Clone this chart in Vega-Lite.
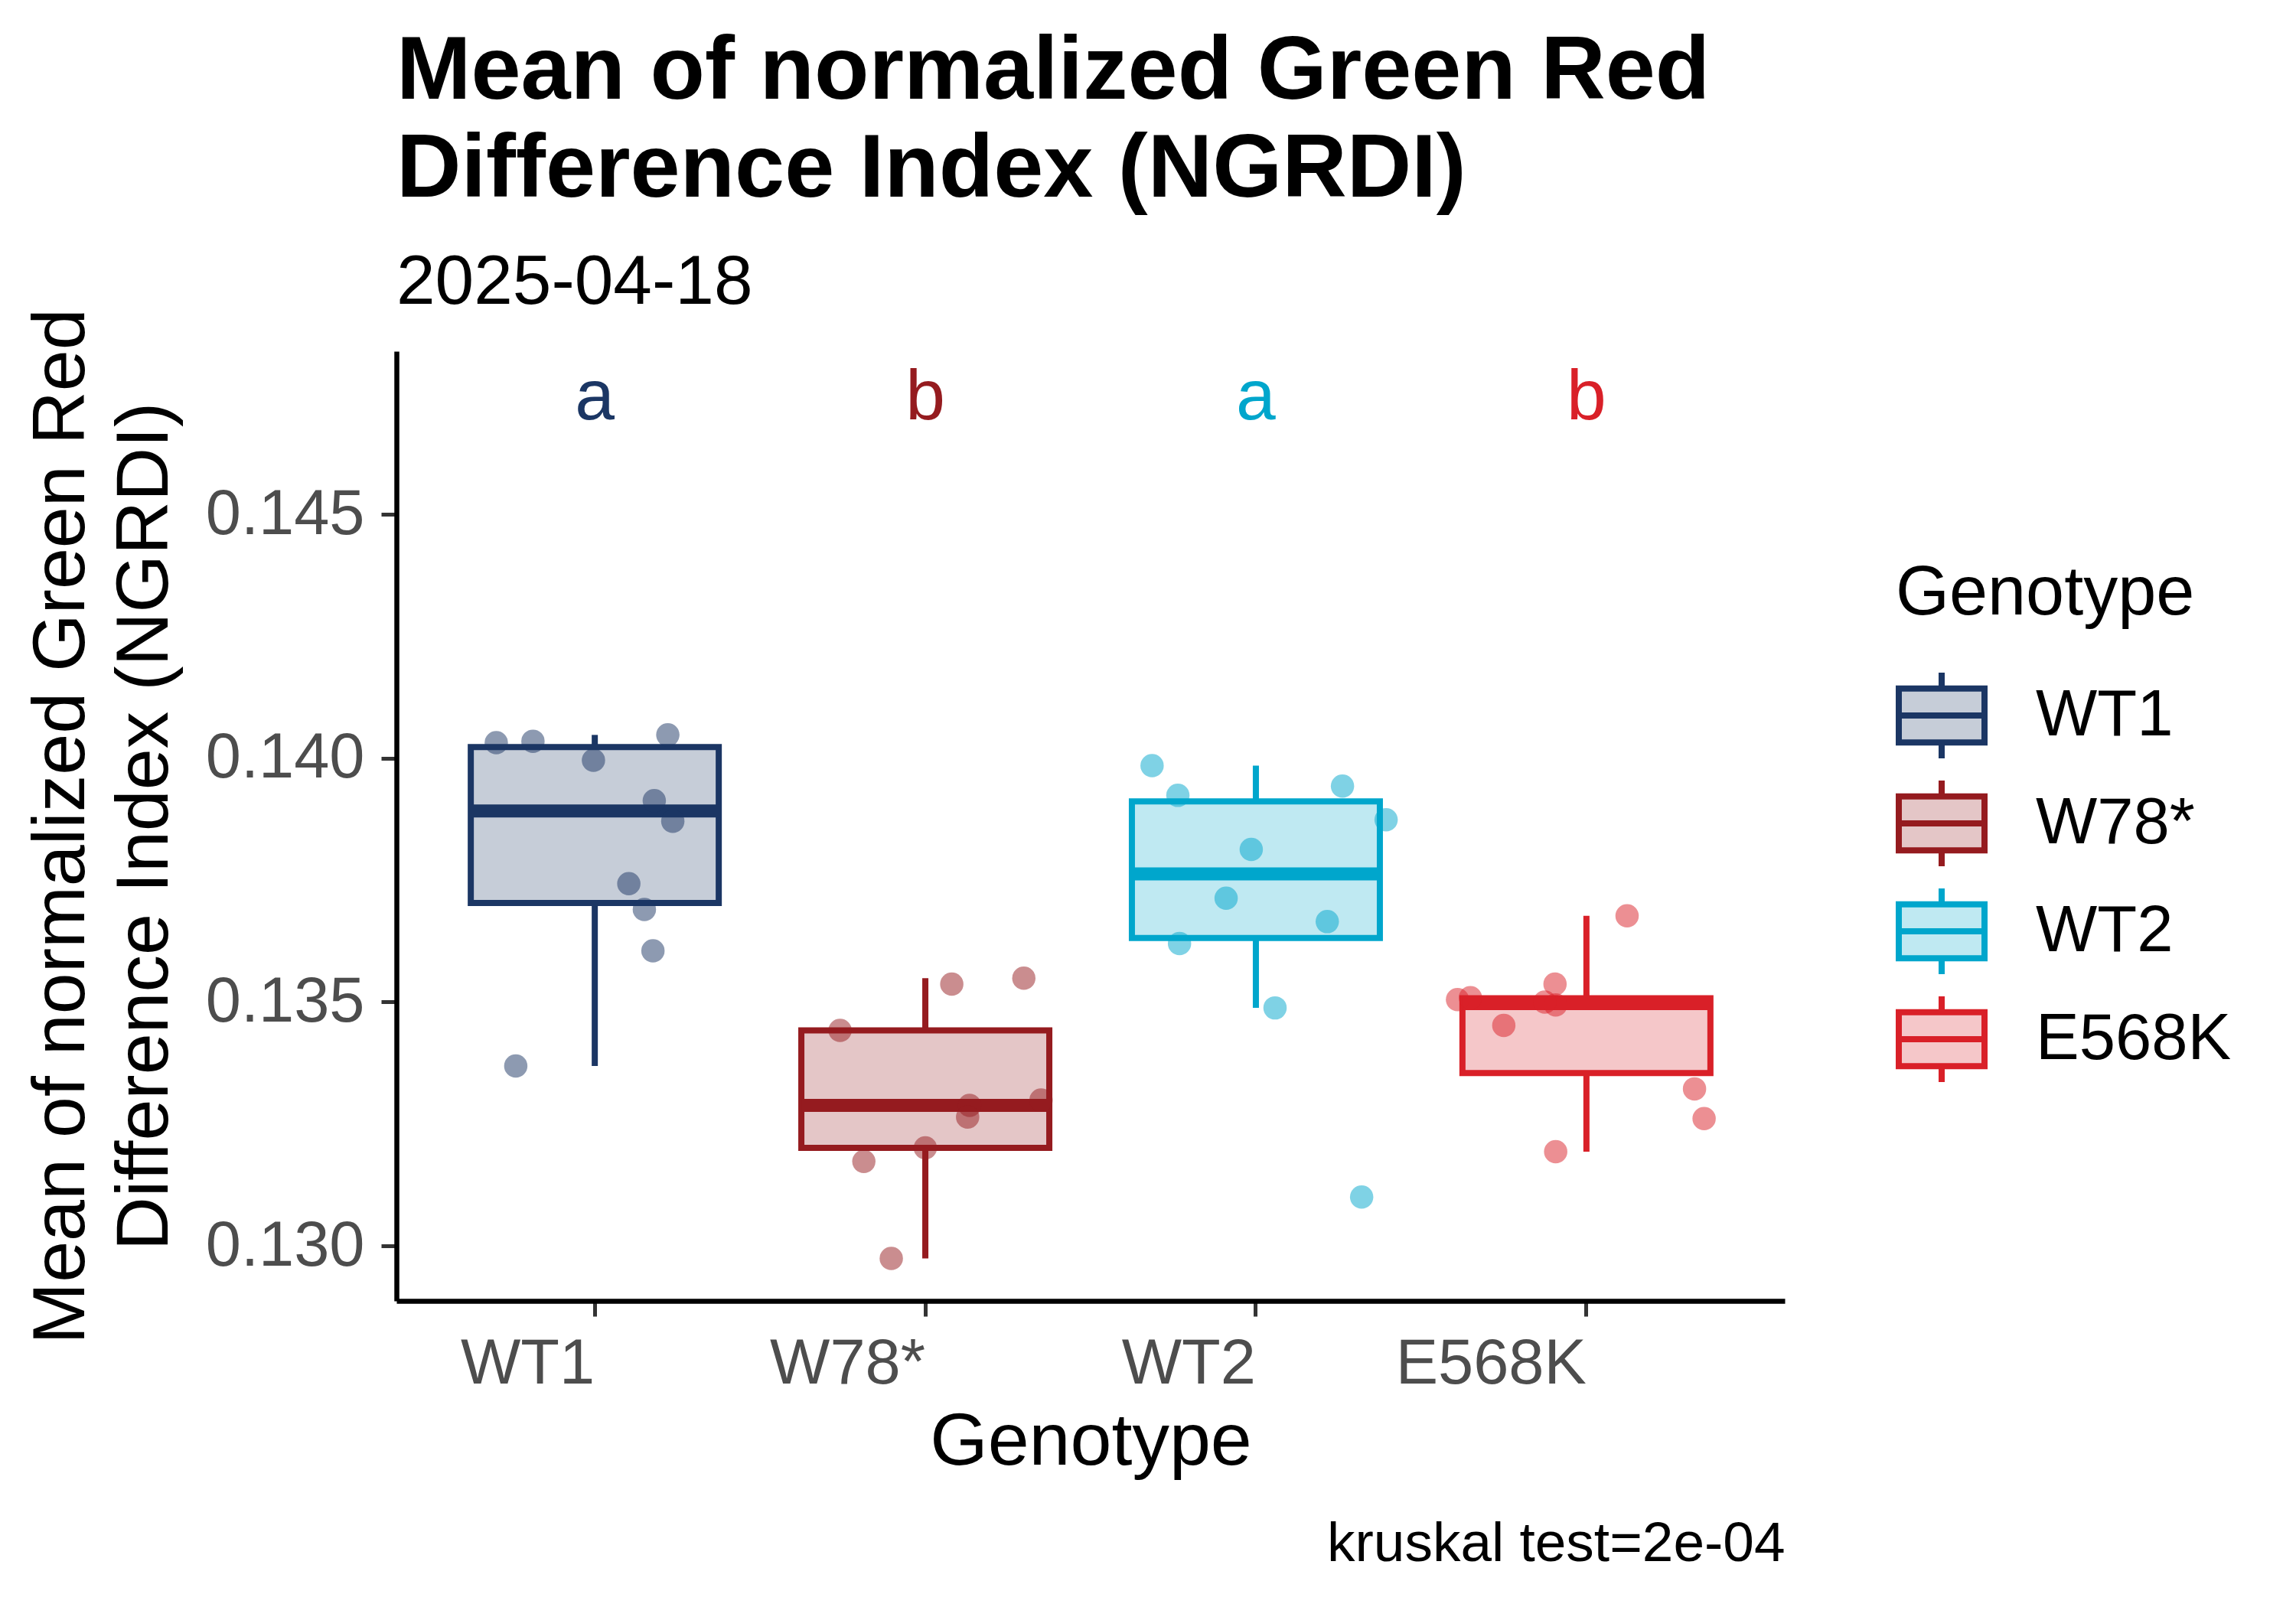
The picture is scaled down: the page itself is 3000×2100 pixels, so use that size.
{
  "$schema": "https://vega.github.io/schema/vega-lite/v6.json",
  "autosize": {"type": "none"},
  "width": 1814,
  "height": 1241,
  "padding": {"left": 518, "top": 459, "right": 668, "bottom": 400},
  "background": "white",
  "title": {
    "text": ["Mean of normalized Green Red", "Difference Index (NGRDI)"],
    "subtitle": "2025-04-18",
    "anchor": "start",
    "frame": "group",
    "font": "Liberation Sans",
    "fontSize": 117,
    "fontWeight": "bold",
    "lineHeight": 128,
    "color": "black",
    "subtitleFont": "Liberation Sans",
    "subtitleFontSize": 91,
    "subtitleColor": "black",
    "subtitlePadding": 43,
    "offset": -14
  },
  "datasets": {
    "ngrdi": [
      {"Genotype": "WT1", "NGRDI": 0.14032, "jit": -0.298},
      {"Genotype": "WT1", "NGRDI": 0.14035, "jit": -0.187},
      {"Genotype": "WT1", "NGRDI": 0.14048, "jit": 0.221},
      {"Genotype": "WT1", "NGRDI": 0.13996, "jit": -0.004},
      {"Genotype": "WT1", "NGRDI": 0.13913, "jit": 0.180},
      {"Genotype": "WT1", "NGRDI": 0.13871, "jit": 0.236},
      {"Genotype": "WT1", "NGRDI": 0.13743, "jit": 0.103},
      {"Genotype": "WT1", "NGRDI": 0.13690, "jit": 0.150},
      {"Genotype": "WT1", "NGRDI": 0.13605, "jit": 0.176},
      {"Genotype": "WT1", "NGRDI": 0.13369, "jit": -0.239},
      {"Genotype": "W78*", "NGRDI": 0.13537, "jit": 0.080},
      {"Genotype": "W78*", "NGRDI": 0.13549, "jit": 0.298},
      {"Genotype": "W78*", "NGRDI": 0.13442, "jit": -0.258},
      {"Genotype": "W78*", "NGRDI": 0.13288, "jit": 0.134},
      {"Genotype": "W78*", "NGRDI": 0.13264, "jit": 0.128},
      {"Genotype": "W78*", "NGRDI": 0.13299, "jit": 0.350},
      {"Genotype": "W78*", "NGRDI": 0.13201, "jit": 0.000},
      {"Genotype": "W78*", "NGRDI": 0.13173, "jit": -0.186},
      {"Genotype": "W78*", "NGRDI": 0.12974, "jit": -0.103},
      {"Genotype": "WT2", "NGRDI": 0.13985, "jit": -0.314},
      {"Genotype": "WT2", "NGRDI": 0.13924, "jit": -0.236},
      {"Genotype": "WT2", "NGRDI": 0.13943, "jit": 0.262},
      {"Genotype": "WT2", "NGRDI": 0.13874, "jit": 0.394},
      {"Genotype": "WT2", "NGRDI": 0.13813, "jit": -0.014},
      {"Genotype": "WT2", "NGRDI": 0.13713, "jit": -0.090},
      {"Genotype": "WT2", "NGRDI": 0.13665, "jit": 0.216},
      {"Genotype": "WT2", "NGRDI": 0.13620, "jit": -0.231},
      {"Genotype": "WT2", "NGRDI": 0.13488, "jit": 0.058},
      {"Genotype": "WT2", "NGRDI": 0.13100, "jit": 0.320},
      {"Genotype": "E568K", "NGRDI": 0.13677, "jit": 0.123},
      {"Genotype": "E568K", "NGRDI": 0.13537, "jit": -0.095},
      {"Genotype": "E568K", "NGRDI": 0.13505, "jit": -0.390},
      {"Genotype": "E568K", "NGRDI": 0.13509, "jit": -0.351},
      {"Genotype": "E568K", "NGRDI": 0.13500, "jit": -0.126},
      {"Genotype": "E568K", "NGRDI": 0.13494, "jit": -0.093},
      {"Genotype": "E568K", "NGRDI": 0.13452, "jit": -0.250},
      {"Genotype": "E568K", "NGRDI": 0.13322, "jit": 0.327},
      {"Genotype": "E568K", "NGRDI": 0.13261, "jit": 0.356},
      {"Genotype": "E568K", "NGRDI": 0.13193, "jit": -0.093}
    ],
    "letters": [
      {"Genotype": "WT1", "letter": "a", "NGRDI": 0.1474},
      {"Genotype": "W78*", "letter": "b", "NGRDI": 0.1474},
      {"Genotype": "WT2", "letter": "a", "NGRDI": 0.1474},
      {"Genotype": "E568K", "letter": "b", "NGRDI": 0.1474}
    ]
  },
  "layer": [
    {
      "data": {"name": "ngrdi"},
      "layer": [
        {
          "mark": {
            "type": "boxplot",
            "extent": 1.5,
            "size": 324,
            "outliers": false,
            "box": {"fillOpacity": 0.25, "strokeWidth": 8, "strokeOpacity": 1},
            "median": {"thickness": 17, "strokeWidth": 0, "opacity": 1},
            "rule": {"strokeWidth": 8, "opacity": 1}
          },
          "encoding": {
            "x": {
              "field": "Genotype",
              "type": "nominal",
              "scale": {"domain": ["WT1", "W78*", "WT2", "E568K"], "paddingInner": 0, "paddingOuter": 0.1},
              "axis": {
                "title": "Genotype",
                "labelAngle": 0,
                "labelAlign": "right",
                "labelFontSize": 83,
                "labelPadding": 21,
                "labelLimit": 0,
                "titleFontSize": 97,
                "titlePadding": 12,
                "domainWidth": 6.5
              }
            },
            "y": {
              "field": "NGRDI",
              "type": "quantitative",
              "scale": {"domain": [0.12887, 0.14835], "nice": false, "zero": false},
              "axis": {
                "title": ["Mean of normalized Green Red", "Difference Index (NGRDI)"],
                "values": [0.130, 0.135, 0.140, 0.145],
                "format": ".3f",
                "labelFontSize": 83,
                "labelPadding": 22,
                "labelLimit": 0,
                "titleFontSize": 97,
                "titleLineHeight": 109,
                "titlePadding": 80,
                "titleLimit": 0,
                "domainWidth": 6.5
              }
            },
            "fill": {
              "field": "Genotype",
              "type": "nominal",
              "scale": {"domain": ["WT1", "W78*", "WT2", "E568K"], "range": ["#1B3664", "#951B1F", "#00A6CC", "#D92028"]},
              "legend": {
                "title": "Genotype",
                "encode": {
                  "symbols": {
                    "update": {
                      "fillOpacity": {"value": 0.25},
                      "strokeOpacity": {"value": 1},
                      "opacity": {"value": 1},
                      "strokeWidth": {"value": 8}
                    }
                  }
                }
              }
            },
            "stroke": {
              "field": "Genotype",
              "type": "nominal",
              "scale": {"domain": ["WT1", "W78*", "WT2", "E568K"], "range": ["#1B3664", "#951B1F", "#00A6CC", "#D92028"]},
              "legend": {"title": "Genotype"}
            }
          }
        },
        {
          "mark": {"type": "point", "filled": true, "size": 930, "opacity": 0.5, "strokeWidth": 0},
          "encoding": {
            "x": {"field": "Genotype", "type": "nominal"},
            "xOffset": {"field": "jit", "type": "quantitative", "scale": {"domain": [-0.5, 0.5]}},
            "y": {"field": "NGRDI", "type": "quantitative"},
            "fill": {"field": "Genotype", "type": "nominal", "legend": null}
          }
        }
      ]
    },
    {
      "data": {"name": "letters"},
      "mark": {"type": "text", "fontSize": 93, "baseline": "middle", "align": "center"},
      "encoding": {
        "x": {
          "field": "Genotype",
          "type": "nominal",
          "axis": {
            "orient": "bottom",
            "title": "kruskal test=2e-04",
            "titleFontSize": 73,
            "titleAnchor": "end",
            "titleAlign": "right",
            "titlePadding": 281,
            "labels": false,
            "ticks": false,
            "domain": false
          }
        },
        "y": {"field": "NGRDI", "type": "quantitative"},
        "text": {"field": "letter"},
        "fill": {"field": "Genotype", "type": "nominal", "legend": null}
      }
    }
  ],
  "resolve": {"axis": {"x": "independent"}},
  "config": {
    "font": "Liberation Sans",
    "view": {"stroke": null},
    "axis": {
      "grid": false,
      "domainColor": "black",
      "domainWidth": 6.5,
      "tickColor": "#333333",
      "tickWidth": 5,
      "tickSize": 20,
      "labelColor": "#4D4D4D",
      "labelFont": "Liberation Sans",
      "titleFont": "Liberation Sans",
      "titleColor": "black",
      "titleFontWeight": "normal"
    },
    "legend": {
      "orient": "none",
      "legendX": 1959,
      "legendY": 273,
      "padding": 0,
      "titleFont": "Liberation Sans",
      "titleFontSize": 90,
      "titleFontWeight": "normal",
      "titleColor": "black",
      "titlePadding": 53,
      "titleLimit": 0,
      "labelFont": "Liberation Sans",
      "labelFontSize": 85,
      "labelColor": "black",
      "labelOffset": 63,
      "labelLimit": 0,
      "rowPadding": -3,
      "symbolType": "M-1,-0.63H1V0.63H-1ZM-1,0H1M0,-0.63V-1M0,0.63V1",
      "symbolSize": 12544,
      "symbolStrokeWidth": 8
    }
  }
}
